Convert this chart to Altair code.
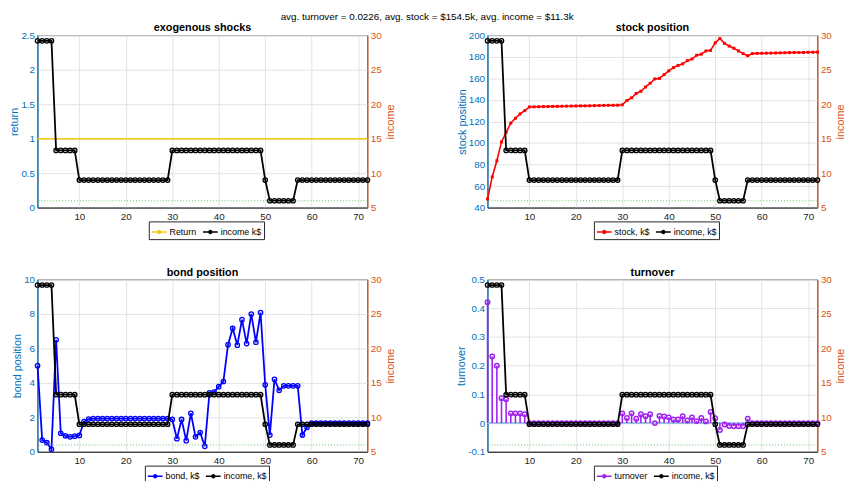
import altair as alt
import pandas as pd

FONT = "Liberation Sans"
BLUE = "#0072BD"
ORANGE = "#D95319"
GRID = "#e3e3e3"
DARK = "#262626"

periods = list(range(1, 73))

income_k = [
    29.2, 29.2, 29.2, 29.2, 13.3, 13.3, 13.3, 13.3, 13.3, 9.0,
    9.0, 9.0, 9.0, 9.0, 9.0, 9.0, 9.0, 9.0, 9.0, 9.0,
    9.0, 9.0, 9.0, 9.0, 9.0, 9.0, 9.0, 9.0, 9.0, 13.3,
    13.3, 13.3, 13.3, 13.3, 13.3, 13.3, 13.3, 13.3, 13.3, 13.3,
    13.3, 13.3, 13.3, 13.3, 13.3, 13.3, 13.3, 13.3, 13.3, 9.0,
    6.0, 6.0, 6.0, 6.0, 6.0, 6.0, 9.0, 9.0, 9.0, 9.0,
    9.0, 9.0, 9.0, 9.0, 9.0, 9.0, 9.0, 9.0, 9.0, 9.0,
    9.0, 9.0,
]

return_rate = [
    1.0, 1.0, 1.0, 1.0, 1.0, 1.0, 1.0, 1.0, 1.0, 1.0,
    1.0, 1.0, 1.0, 1.0, 1.0, 1.0, 1.0, 1.0, 1.0, 1.0,
    1.0, 1.0, 1.0, 1.0, 1.0, 1.0, 1.0, 1.0, 1.0, 1.0,
    1.0, 1.0, 1.0, 1.0, 1.0, 1.0, 1.0, 1.0, 1.0, 1.0,
    1.0, 1.0, 1.0, 1.0, 1.0, 1.0, 1.0, 1.0, 1.0, 1.0,
    1.0, 1.0, 1.0, 1.0, 1.0, 1.0, 1.0, 1.0, 1.0, 1.0,
    1.0, 1.0, 1.0, 1.0, 1.0, 1.0, 1.0, 1.0, 1.0, 1.0,
    1.0, 1.0,
]

stock_k = [
    48, 68.5, 83.5, 101, 110, 118.5, 123, 127, 130, 133.5,
    133.6, 133.7, 133.8, 133.9, 134.0, 134.0, 134.1, 134.2, 134.3, 134.4,
    134.5, 134.5, 134.6, 134.7, 134.8, 134.9, 135.0, 135.0, 135.1, 135.5,
    139.5, 142, 146, 148, 152, 155.5, 159.5, 160, 163.5, 167,
    170, 172, 173.5, 176.5, 178, 181.5, 182.5, 185.5, 186, 193,
    197, 192.5, 190, 188, 185.5, 183, 181, 183, 183.2, 183.3,
    183.4, 183.5, 183.6, 183.7, 183.8, 183.9, 184.0, 184.0, 184.1, 184.2,
    184.3, 184.4,
]

bond_k = [
    5.0, 0.68, 0.53, 0.15, 6.5, 1.08, 0.93, 0.87, 0.91, 0.95,
    1.76, 1.9, 1.93, 1.93, 1.93, 1.93, 1.93, 1.93, 1.93, 1.93,
    1.93, 1.93, 1.93, 1.93, 1.93, 1.93, 1.93, 1.93, 1.93, 1.88,
    0.76, 1.88, 0.65, 2.24, 0.87, 1.12, 0.32, 3.42, 3.47, 3.78,
    4.08, 6.22, 7.17, 6.19, 7.67, 6.28, 8.0, 6.36, 8.08, 3.89,
    0.97, 4.21, 3.57, 3.83, 3.83, 3.83, 3.83, 0.97, 1.42, 1.67,
    1.67, 1.67, 1.67, 1.67, 1.67, 1.67, 1.67, 1.67, 1.67, 1.67,
    1.67, 1.67,
]

turnover = [
    0.421, 0.232, 0.2, 0.087, 0.083, 0.034, 0.034, 0.034, 0.031, 0.0,
    0.0, 0.0, 0.0, 0.0, 0.0, 0.0, 0.0, 0.0, 0.0, 0.0,
    0.0, 0.0, 0.0, 0.0, 0.0, 0.0, 0.0, 0.0, 0.0, 0.034,
    0.018, 0.034, 0.015, 0.031, 0.024, 0.031, 0.0, 0.025, 0.023, 0.02,
    0.013, 0.013, 0.024, 0.009, 0.02, 0.007, 0.018, 0.006, 0.039, 0.017,
    -0.024, -0.005, -0.01, -0.011, -0.011, -0.011, 0.015, 0.0, 0.0, 0.0,
    0.0, 0.0, 0.0, 0.0, 0.0, 0.0, 0.0, 0.0, 0.0, 0.0,
    0.0, 0.0,
]

income_floor = [6.0]
x_ticks = [10, 20, 30, 40, 50, 60, 70]
income_ticks = [5, 10, 15, 20, 25, 30]

suptitle = "avg. turnover = 0.0226, avg. stock = $154.5k, avg. income = $11.3k"

W, H = 335, 175
SYM = "M-1,0H1M0.2,0A0.2,0.2,0,1,1,-0.2,0A0.2,0.2,0,1,1,0.2,0"


def x_enc():
    return alt.X(
        "t:Q",
        scale=alt.Scale(domain=[1, 72], nice=False, zero=False),
        axis=alt.Axis(values=x_ticks, title=None, grid=True, gridColor=GRID, ticks=False,
                      labelColor=DARK, domainColor=DARK, labelFontSize=10, labelFont=FONT,
                      labelPadding=4),
    )


def left_axis(title, ticks):
    return alt.Axis(title=title, titleColor=BLUE, labelColor=BLUE, domainColor=BLUE, ticks=False,
                    values=ticks, grid=True, gridColor=GRID, labelFontSize=10, labelFont=FONT,
                    titleFont=FONT, titleFontSize=11, titleFontWeight="normal", labelPadding=3,
                    titlePadding=1, labelExpr="'' + datum.value")


def right_axis():
    return alt.Axis(orient="right", title="income", titleColor=ORANGE, labelColor=ORANGE,
                    domainColor=ORANGE, ticks=False, values=income_ticks, grid=False,
                    labelFontSize=10, labelFont=FONT, titleFont=FONT, titleFontSize=11,
                    titleFontWeight="normal", titleAngle=270, titleBaseline="top",
                    labelPadding=3, titlePadding=3)


def legend(lx):
    return alt.Legend(title=None, orient="none", legendX=lx, legendY=H + 14,
                      direction="horizontal", symbolType=SYM, symbolSize=225,
                      symbolStrokeWidth=1.5, labelFontSize=9, labelFont=FONT, labelColor="black",
                      strokeColor=DARK, fillColor="white", padding=2, columnPadding=3,
                      labelOffset=2)


def panel(title, main_vals, main_label, main_color, inc_label, left_title, left_domain,
          left_ticks, kind, lx):
    df = pd.DataFrame({"t": periods, "main": main_vals, "income": income_k,
                       "lab_main": main_label, "lab_inc": inc_label})
    cscale = alt.Scale(domain=[main_label, inc_label], range=[main_color, "black"])
    lscale = alt.Scale(domain=left_domain, nice=False, zero=False)
    iscale = alt.Scale(domain=[5, 30], nice=False, zero=False)
    base = alt.Chart(df)
    ly = alt.Y("main:Q", scale=lscale, axis=left_axis(left_title, left_ticks))
    leg = legend(lx)

    left_layers = []
    if kind == "line":
        left_layers.append(base.mark_line(strokeWidth=1.6).encode(
            x=x_enc(), y=ly, color=alt.Color("lab_main:N", scale=cscale, legend=leg)))
    elif kind == "square":
        left_layers.append(base.mark_line(strokeWidth=1.6).encode(
            x=x_enc(), y=ly, color=alt.Color("lab_main:N", scale=cscale, legend=leg)))
        left_layers.append(base.mark_point(shape="square", filled=True, size=9, opacity=1,
                                           color=main_color).encode(x=x_enc(), y=ly))
    elif kind == "circle":
        left_layers.append(base.mark_line(strokeWidth=1.8).encode(
            x=x_enc(), y=ly, color=alt.Color("lab_main:N", scale=cscale, legend=leg)))
        left_layers.append(base.mark_point(shape="circle", filled=False, size=20,
                                           strokeWidth=1.3, opacity=1,
                                           color=main_color).encode(x=x_enc(), y=ly))
    elif kind == "stem":
        left_layers.append(base.mark_rule(color="#9cc3e6", strokeWidth=1.2).encode(
            y=alt.Y("z:Q", scale=lscale, axis=left_axis(left_title, left_ticks))
        ).transform_calculate(z="0"))
        left_layers.append(base.mark_rule(strokeWidth=1.6).encode(
            x=x_enc(), y=ly, y2=alt.datum(0),
            color=alt.Color("lab_main:N", scale=cscale, legend=leg)))
        left_layers.append(base.mark_point(shape="circle", filled=False, size=20,
                                           strokeWidth=1.5, opacity=1,
                                           color=main_color).encode(x=x_enc(), y=ly))

    iy = alt.Y("income:Q", scale=iscale, axis=right_axis())
    floor = alt.Chart(pd.DataFrame({"income": income_floor})).mark_rule(
        color="#6cbf6c", strokeDash=[1, 2], strokeWidth=1.1).encode(y=iy)
    inc_line = base.mark_line(strokeWidth=1.8).encode(
        x=x_enc(), y=iy, color=alt.Color("lab_inc:N", scale=cscale, legend=leg))
    inc_pts = base.mark_point(shape="circle", filled=False, size=20, strokeWidth=1.3,
                              opacity=1, color="black").encode(x=x_enc(), y=iy)

    left = alt.layer(*left_layers)
    right = alt.layer(floor, inc_line, inc_pts)
    return alt.layer(left, right).resolve_scale(y="independent").properties(
        width=W, height=H, title=alt.TitleParams(title, frame="group", offset=-3))


p1 = panel("exogenous shocks", return_rate, "Return", "#F2C811", "income k$", "return",
           [0, 2.5], [0, 0.5, 1, 1.5, 2, 2.5], "line", 113)
p2 = panel("stock position", stock_k, "stock, k$", "#FF0000", "income, k$", "stock position",
           [40, 200], [40, 60, 80, 100, 120, 140, 160, 180, 200], "square", 108)
p3 = panel("bond position", bond_k, "bond, k$", "#0000FF", "income, k$", "bond position",
           [0, 10], [0, 2, 4, 6, 8, 10], "circle", 109)
p4 = panel("turnover", turnover, "turnover", "#A020F0", "income, k$", "turnover",
           [-0.1, 0.5], [-0.1, 0, 0.1, 0.2, 0.3, 0.4, 0.5], "stem", 108)

row1 = alt.hconcat(p1, p2, spacing=60).resolve_scale(color="independent")
row2 = alt.hconcat(p3, p4, spacing=60).resolve_scale(color="independent")

chart = alt.vconcat(row1, row2, spacing=26).resolve_scale(color="independent").properties(
    title=alt.TitleParams(suptitle, fontSize=10, fontWeight="normal", font=FONT,
                          anchor="middle", color="black", offset=0),
    padding={"left": 0, "right": 0, "top": 0, "bottom": 0},
).configure_view(stroke=DARK, strokeWidth=0.8).configure_title(
    fontSize=11, font=FONT, fontWeight="bold", color="black", anchor="middle"
).configure_axis(labelFont=FONT, titleFont=FONT)

chart.save("out.html", embed_options={"renderer": "svg", "actions": False})
